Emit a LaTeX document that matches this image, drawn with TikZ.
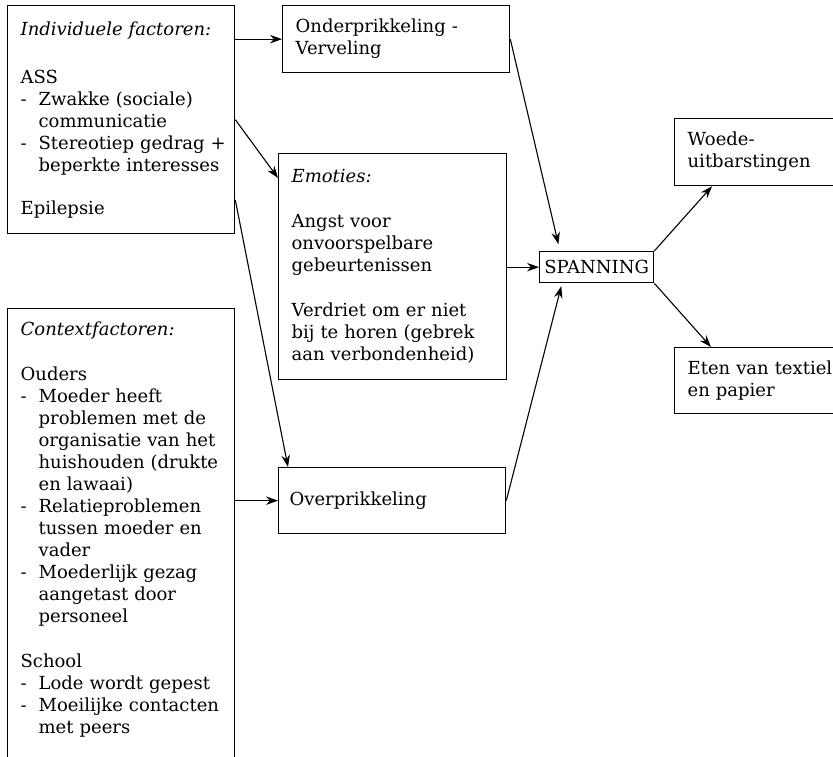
\documentclass[tikz,border=0pt]{standalone}
\usepackage{fontspec}
\setmainfont{DejaVu Serif}
\usetikzlibrary{arrows.meta,calc}
\newcommand{\streep}{\makebox[18pt][l]{-}}
\newcommand{\inspring}{\hspace*{18pt}}
\begin{document}
\begin{tikzpicture}[x=1pt,y=-1pt,
 vak/.style={draw,line width=1.3pt,anchor=north west,align=left,inner xsep=13pt,inner ysep=0pt,font=\fontsize{18}{22}\selectfont},
 pijl/.style={-{Stealth[length=12pt,width=8.5pt]},line width=1.1pt}]
 \clip (0,0) rectangle (833,756);
 % linker kolom
 \node[vak,minimum width=227pt,minimum height=228pt,text width=201pt] (indiv) at (7,5) {\textit{Individuele factoren:}\\[26pt]
  ASS\\
  \streep Zwakke (sociale)\\
  \inspring communicatie\\
  \mbox{\streep Stereotiep gedrag +}\\
  \inspring beperkte interesses\\[21pt]
  Epilepsie};
 \node[vak,minimum width=227pt,text width=201pt,inner ysep=13pt] (context) at (7,308) {\textit{Contextfactoren:}\\[23pt]
  Ouders\\
  \streep Moeder heeft\\
  \inspring problemen met de\\
  \inspring organisatie van het\\
  \inspring \mbox{huishouden (drukte}\\
  \inspring en lawaai)\\
  \streep Relatieproblemen\\
  \inspring tussen moeder en\\
  \inspring vader\\
  \streep Moederlijk gezag\\
  \inspring aangetast door\\
  \inspring personeel\\[23pt]
  School\\
  \streep Lode wordt gepest\\
  \streep \mbox{Moeilijke contacten}\\
  \inspring met peers\\[60pt]\mbox{}};
 % middelste kolom
 \node[vak,minimum width=227pt,minimum height=67pt,text width=201pt] (onder) at (282,5) {Onderprikkeling -\\Verveling};
 \node[vak,minimum width=228pt,minimum height=226pt,text width=202pt] (emo) at (278,153) {\textit{Emoties:}\\[23pt]
  Angst voor\\
  onvoorspelbare\\
  gebeurtenissen\\[23pt]
  Verdriet om er niet\\
  bij te horen (gebrek\\
  aan verbondenheid)};
 \node[vak,minimum width=227pt,minimum height=66pt,text width=205pt,inner xsep=11pt] (over) at (278,467) {Overprikkeling};
 \node[vak,align=center,minimum width=114pt,minimum height=31pt,inner xsep=2pt] (span) at (539,251) {SPANNING};
 % rechter kolom
 \node[vak,minimum width=190pt,minimum height=67pt,text width=164pt] (woede) at (674,118) {Woede-\\uitbarstingen};
 \node[vak,minimum width=190pt,minimum height=66pt,text width=164pt] (eten) at (674,347) {Eten van textiel\\en papier};
 % pijlen
 \draw[pijl] (indiv.east |- onder.west) -- (onder.west);
 \draw[pijl] (indiv.east) -- ($(emo.north west)!0.11!(emo.south west)$);
 \draw[pijl] ($(indiv.north east)!0.85!(indiv.south east)$) -- ($(over.north west)+(10,0)$);
 \draw[pijl] (context.east |- over.west) -- (over.west);
 \draw[pijl,shorten >=7pt] (onder.east) -- ($(span.north west)+(21,0)$);
 \draw[pijl] (emo.east |- span.west) -- (span.west);
 \draw[pijl,shorten >=3pt] (over.east) -- ($(span.south west)+(23,0)$);
 \draw[pijl] (span.north east) -- ($(woede.south west)+(38,0)$);
 \draw[pijl] (span.south east) -- ($(eten.north west)+(37,0)$);
\end{tikzpicture}
\end{document}
